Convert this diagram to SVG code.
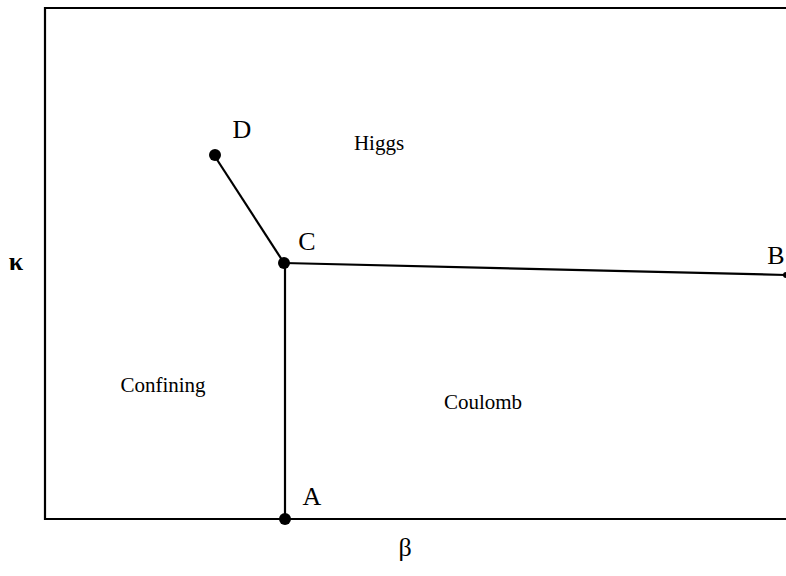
<svg xmlns="http://www.w3.org/2000/svg" width="786" height="576" viewBox="0 0 786 576">
<style>
.lbl{font-family:"Liberation Serif",serif;font-size:26px;fill:#000}
.reg{font-family:"Liberation Serif",serif;font-size:21px;fill:#000}
.ln{stroke:#000;stroke-width:2.2;fill:none}
.dot{fill:#000}
</style>
<rect width="786" height="576" fill="#fff"/>
<g id="frame">
<path class="ln" d="M786,8 H45 V519 H786" stroke-width="3"/>
</g>
<g id="connectors">
<line class="ln" x1="214" y1="155" x2="284" y2="263"/>
<line class="ln" x1="284" y1="263" x2="786" y2="275"/>
<line class="ln" x1="285" y1="263" x2="285" y2="519"/>
</g>
<g id="D"><circle class="dot" cx="215" cy="155" r="6"/><text class="lbl" x="242" y="138" text-anchor="middle">D</text></g>
<g id="C"><circle class="dot" cx="284" cy="263" r="6"/><text class="lbl" x="307" y="250" text-anchor="middle">C</text></g>
<g id="B"><circle class="dot" cx="786" cy="275" r="3"/><text class="lbl" x="776" y="264" text-anchor="middle">B</text></g>
<g id="A"><circle class="dot" cx="285" cy="519" r="6"/><text class="lbl" x="312" y="505" text-anchor="middle">A</text></g>
<g id="regions">
<text class="reg" x="379" y="150" text-anchor="middle">Higgs</text>
<text class="reg" x="163" y="392" text-anchor="middle">Confining</text>
<text class="reg" x="483" y="409" text-anchor="middle">Coulomb</text>
</g>
<g id="axes">
<text class="lbl" x="405" y="556" text-anchor="middle">β</text>
<text class="lbl" x="16" y="270" text-anchor="middle" font-weight="bold">κ</text>
</g>
</svg>
